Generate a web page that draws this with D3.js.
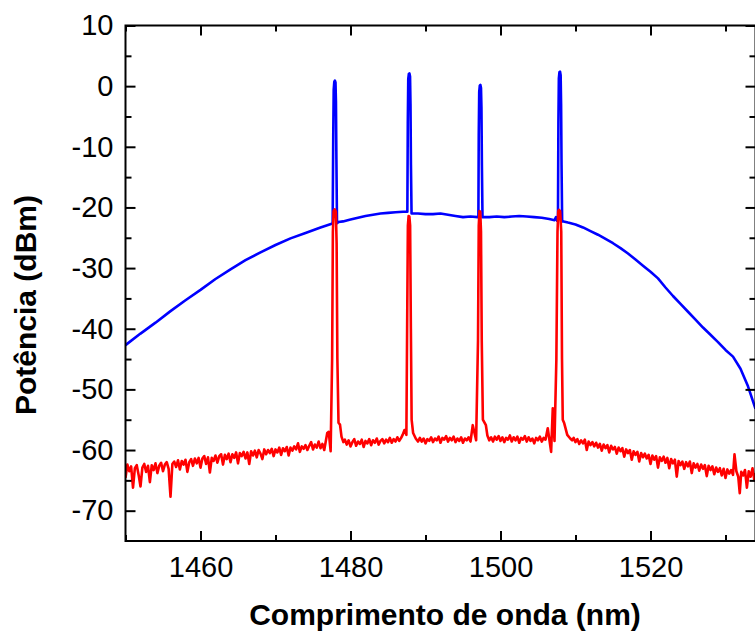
<!DOCTYPE html>
<html>
<head>
<meta charset="utf-8">
<script src="https://cdn.jsdelivr.net/npm/d3@7"></script>
<style>
  html, body { margin: 0; padding: 0; background: #fff; }
  svg { display: block; }
</style>
</head>
<body>
<svg id="chart" width="755" height="634"></svg>
<script>
// ---------------- DATA ----------------
const xMajorTicks = [1460, 1480, 1500, 1520];
const xMinorTicks = [1450, 1470, 1490, 1510, 1530];
const yMajorTicks = [10, 0, -10, -20, -30, -40, -50, -60, -70];
const yMinorTicks = [5, -5, -15, -25, -35, -45, -55, -65];

// Blue trace (ASE + 4 signal lines)
const blueWavelength = [
  1450, 1452, 1454, 1456, 1458, 1460, 1462, 1464, 1466, 1468, 1470, 1472, 1474, 1476, 1477.5,
  1477.62, 1477.7, 1477.76, 1477.84, 1477.92, 1478.0, 1478.06, 1478.12, 1478.2,
  1478.4, 1479, 1480, 1481, 1482, 1483, 1484, 1485, 1486, 1487, 1487.5,
  1487.58, 1487.64, 1487.7, 1487.78, 1487.86, 1487.94, 1488.0, 1488.06, 1488.14,
  1488.3, 1489, 1490, 1491, 1492, 1493, 1494, 1495, 1496, 1496.95,
  1497.05, 1497.1, 1497.16, 1497.24, 1497.32, 1497.4, 1497.46, 1497.52, 1497.6,
  1497.8, 1498.5, 1499.5, 1500.5, 1501.5, 1502.5, 1503.5, 1504.5, 1505.5, 1506.5, 1507.2, 1507.4, 1507.55,
  1507.66, 1507.72, 1507.78, 1507.86, 1507.94, 1508.02, 1508.08, 1508.14, 1508.22,
  1508.4, 1509, 1510, 1511, 1512, 1513, 1514, 1515, 1516, 1517, 1518, 1519, 1520,
  1521, 1522, 1523, 1524, 1525, 1526, 1527, 1528, 1529, 1530, 1531, 1532, 1533, 1534
];
const bluePower = [
  -42.7, -40.8, -39.0, -37.1, -35.3, -33.6, -31.8, -30.2, -28.7, -27.4, -26.2, -25.1, -24.2, -23.3, -22.7,
  -22.7, -8.0, -0.6, 0.7, 0.9, 0.6, -2.5, -12.0, -22.6,
  -22.4, -22.3, -22.0, -21.7, -21.4, -21.2, -21.0, -20.9, -20.8, -20.7, -20.7,
  -20.7, -6.0, 1.2, 2.0, 2.1, 1.6, -3.0, -13.0, -21.0,
  -21.0, -21.0, -21.1, -21.1, -21.0, -21.2, -21.4, -21.6, -21.5, -21.6,
  -21.6, -8.0, -1.0, 0.1, 0.2, -0.3, -3.5, -13.0, -21.6,
  -21.6, -21.6, -21.5, -21.6, -21.5, -21.4, -21.5, -21.6, -21.7, -21.9, -22.1, -21.6, -22.2,
  -22.2, -6.0, 1.3, 2.3, 2.4, 1.8, -3.0, -13.0, -22.3,
  -22.3, -22.5, -22.8, -23.3, -23.9, -24.5, -25.2, -25.9, -26.7, -27.6, -28.6, -29.6, -30.6,
  -31.7, -33.2, -34.6, -35.9, -37.2, -38.5, -39.8, -41.0, -42.2, -43.5, -44.6, -46.6, -49.5, -53.2
];

// Red trace (output): [wavelength nm, power dBm]
const redTrace = [
  [1450.00,-64.6],[1450.25,-62.4],[1450.50,-63.5],[1450.75,-62.7],[1451.00,-66.2],[1451.25,-63.0],[1451.50,-62.5],[1451.75,-64.1],
  [1452.00,-66.0],[1452.25,-62.9],[1452.50,-62.3],[1452.75,-63.6],[1453.00,-62.6],[1453.25,-65.3],[1453.50,-62.5],[1453.75,-63.3],
  [1454.00,-62.2],[1454.25,-63.8],[1454.50,-62.6],[1454.75,-62.1],[1455.00,-63.5],[1455.25,-62.4],[1455.50,-62.0],[1455.75,-63.1],
  [1456.00,-67.7],[1456.25,-62.3],[1456.50,-61.9],[1456.75,-62.8],[1457.00,-61.7],[1457.25,-63.2],[1457.50,-61.8],[1457.75,-62.4],
  [1458.00,-61.6],[1458.25,-63.6],[1458.50,-62.0],[1458.75,-61.5],[1459.00,-62.6],[1459.25,-61.4],[1459.50,-62.2],[1459.75,-61.3],
  [1460.00,-62.9],[1460.25,-61.4],[1460.50,-61.0],[1460.75,-62.3],[1461.00,-61.2],[1461.25,-63.7],[1461.50,-61.3],[1461.75,-61.8],
  [1462.00,-60.9],[1462.25,-62.1],[1462.50,-61.0],[1462.75,-60.7],[1463.00,-62.4],[1463.25,-60.8],[1463.50,-61.5],[1463.75,-60.6],
  [1464.00,-62.0],[1464.25,-60.7],[1464.50,-61.3],[1464.75,-60.4],[1465.00,-62.2],[1465.25,-60.5],[1465.50,-61.0],[1465.75,-60.3],
  [1466.00,-61.4],[1466.25,-60.4],[1466.50,-62.3],[1466.75,-60.2],[1467.00,-60.9],[1467.25,-60.1],[1467.50,-61.2],[1467.75,-60.0],
  [1468.00,-60.6],[1468.25,-61.5],[1468.50,-59.9],[1468.75,-60.7],[1469.00,-60.0],[1469.25,-60.5],[1469.50,-59.8],[1469.75,-61.0],
  [1470.00,-59.9],[1470.25,-60.4],[1470.50,-59.6],[1470.75,-60.8],[1471.00,-59.7],[1471.25,-60.2],[1471.50,-59.5],[1471.75,-60.9],
  [1472.00,-59.6],[1472.25,-60.1],[1472.50,-59.4],[1472.75,-59.9],[1473.00,-58.9],[1473.25,-60.3],[1473.50,-59.4],[1473.75,-59.8],
  [1474.00,-59.2],[1474.25,-60.0],[1474.50,-59.3],[1474.75,-58.7],[1475.00,-59.9],[1475.25,-59.1],[1475.50,-59.6],[1475.75,-58.6],
  [1476.00,-59.7],[1476.25,-59.0],[1476.50,-60.0],
  [1476.90,-57.2],[1477.10,-57.0],[1477.35,-60.2],[1477.55,-45.0],[1477.65,-24.0],[1477.75,-20.6],[1477.90,-20.3],[1478.05,-20.7],
  [1478.15,-26.0],[1478.25,-45.0],[1478.40,-55.5],[1478.60,-55.8],[1478.80,-57.8],[1479.05,-58.7],
  [1479.25,-58.3],[1479.50,-59.1],[1479.75,-58.4],[1480.00,-59.4],[1480.25,-58.7],[1480.50,-58.2],[1480.75,-59.3],[1481.00,-58.6],
  [1481.25,-59.0],[1481.50,-58.3],[1481.75,-59.5],[1482.00,-58.5],[1482.25,-58.9],[1482.50,-58.2],[1482.75,-59.2],[1483.00,-58.4],
  [1483.25,-58.8],[1483.50,-58.1],[1483.75,-59.1],[1484.00,-58.5],[1484.25,-58.2],[1484.50,-58.9],[1484.75,-58.3],[1485.00,-58.7],
  [1485.25,-58.0],[1485.50,-58.8],[1485.75,-58.2],[1486.00,-58.6],[1486.25,-57.9],[1486.50,-58.5],[1486.75,-58.0],
  [1486.95,-57.5],[1487.20,-56.7],[1487.45,-57.5],[1487.55,-40.0],[1487.65,-23.0],[1487.75,-21.4],[1487.85,-21.5],[1487.95,-23.0],
  [1488.05,-40.0],[1488.15,-55.0],[1488.35,-57.2],[1488.70,-58.1],[1489.00,-58.6],
  [1489.25,-58.0],[1489.50,-58.6],[1489.75,-58.1],[1490.00,-58.9],[1490.25,-58.2],[1490.50,-58.5],[1490.75,-57.9],[1491.00,-58.7],
  [1491.25,-58.1],[1491.50,-58.4],[1491.75,-57.8],[1492.00,-58.8],[1492.25,-58.0],[1492.50,-58.3],[1492.75,-57.7],[1493.00,-58.6],
  [1493.25,-58.0],[1493.50,-58.4],[1493.75,-57.8],[1494.00,-58.7],[1494.25,-58.1],[1494.50,-58.5],[1494.75,-57.9],[1495.00,-58.8],
  [1495.25,-58.1],[1495.50,-58.4],[1495.75,-57.9],[1496.00,-58.6],
  [1496.30,-55.9],[1496.75,-58.4],[1497.00,-42.0],[1497.10,-23.0],[1497.20,-20.6],[1497.30,-20.7],[1497.40,-24.0],[1497.50,-42.0],
  [1497.65,-55.0],[1498.05,-55.9],
  [1498.25,-57.6],[1498.50,-58.4],[1498.75,-57.9],[1499.00,-58.6],[1499.25,-57.8],[1499.50,-58.3],[1499.75,-57.7],[1500.00,-58.5],
  [1500.25,-57.9],[1500.50,-58.7],[1500.75,-58.0],[1501.00,-58.3],[1501.25,-57.6],[1501.50,-58.6],[1501.75,-57.9],[1502.00,-58.4],
  [1502.25,-57.8],[1502.50,-58.8],[1502.75,-58.0],[1503.00,-58.3],[1503.25,-57.7],[1503.50,-58.6],[1503.75,-57.9],[1504.00,-58.5],
  [1504.25,-58.1],[1504.50,-58.9],[1504.75,-58.0],[1505.00,-58.4],[1505.25,-57.8],[1505.50,-58.6],[1505.75,-58.0],[1506.00,-58.3],
  [1506.30,-56.4],[1506.75,-60.3],[1506.97,-53.1],[1507.20,-58.5],[1507.45,-45.0],[1507.60,-24.0],[1507.70,-20.6],[1507.80,-20.4],
  [1507.95,-20.6],[1508.10,-24.0],[1508.20,-45.0],[1508.30,-55.0],[1508.50,-55.6],[1508.90,-57.5],[1509.30,-58.1],[1509.55,-58.4],
  [1509.75,-58.0],[1510.00,-58.7],[1510.25,-58.2],[1510.50,-59.0],[1510.75,-58.4],[1511.00,-58.9],[1511.25,-58.3],[1511.50,-60.0],
  [1511.75,-58.6],[1512.00,-59.2],[1512.25,-58.7],[1512.50,-59.4],[1512.75,-58.8],[1513.00,-59.6],[1513.25,-59.0],[1513.50,-60.1],
  [1513.75,-59.1],[1514.00,-59.7],[1514.25,-59.2],[1514.50,-60.4],[1514.75,-59.3],[1515.00,-59.9],[1515.25,-59.5],[1515.50,-60.6],
  [1515.75,-59.6],[1516.00,-60.2],[1516.25,-59.7],[1516.50,-61.1],[1516.75,-59.9],[1517.00,-60.5],[1517.25,-60.0],[1517.50,-61.6],
  [1517.75,-60.2],[1518.00,-60.8],[1518.25,-60.3],[1518.50,-61.9],[1518.75,-60.5],[1519.00,-61.2],[1519.25,-60.6],[1519.50,-61.4],
  [1519.75,-60.8],[1520.00,-62.3],[1520.25,-60.9],[1520.50,-61.6],[1520.75,-61.0],[1521.00,-62.9],[1521.25,-61.2],[1521.50,-61.8],
  [1521.75,-61.1],[1522.00,-62.1],[1522.25,-61.3],[1522.50,-63.0],[1522.75,-61.5],[1523.00,-62.2],[1523.25,-61.6],[1523.50,-64.4],
  [1523.75,-61.8],[1524.00,-62.5],[1524.25,-61.9],[1524.50,-63.1],[1524.75,-62.0],[1525.00,-62.7],[1525.25,-61.9],[1525.50,-63.8],
  [1525.75,-62.2],[1526.00,-62.9],[1526.25,-62.3],[1526.50,-63.4],[1526.75,-62.4],[1527.00,-63.1],[1527.25,-62.5],[1527.50,-64.3],
  [1527.75,-62.6],[1528.00,-63.3],[1528.25,-62.7],[1528.50,-64.0],[1528.75,-62.9],[1529.00,-63.6],[1529.25,-63.0],[1529.50,-64.2],
  [1529.75,-63.1],[1530.00,-64.6],[1530.25,-63.2],[1530.50,-63.9],[1530.75,-63.3],[1531.00,-64.1],[1531.20,-60.7],[1531.45,-63.5],
  [1531.70,-64.4],[1531.90,-67.1],[1532.10,-63.6],[1532.35,-64.2],[1532.60,-63.3],[1532.85,-66.2],[1533.10,-63.5],[1533.35,-64.4],
  [1533.60,-63.0],[1533.85,-65.0],[1534.00,-63.8]
];

// ---------------- CHART ----------------
const svg = d3.select("#chart");
const FONT = "'Liberation Sans', Arial, sans-serif";
const margin = { left: 125.5, top: 25.5, bottom: 541 };

const x = d3.scaleLinear().domain([1450, 1534]).range([margin.left, margin.left + 84 * 7.5]);
const y = d3.scaleLinear().domain([-75, 10]).range([margin.bottom, margin.top]);
const xRight = x(1534);

svg.append("defs").append("clipPath").attr("id", "plotclip")
  .append("rect")
  .attr("x", margin.left).attr("y", margin.top)
  .attr("width", xRight - margin.left).attr("height", margin.bottom - margin.top);

const lineGen = d3.line().x(d => x(d[0])).y(d => y(d[1]));
const blueData = blueWavelength.map((w, i) => [w, bluePower[i]]);

const plot = svg.append("g").attr("clip-path", "url(#plotclip)");
plot.append("path").datum(blueData)
  .attr("d", lineGen).attr("fill", "none").attr("stroke", "#0000ff")
  .attr("stroke-width", 2.6).attr("stroke-linejoin", "round");
plot.append("path").datum(redTrace)
  .attr("d", lineGen).attr("fill", "none").attr("stroke", "#ff0000")
  .attr("stroke-width", 2.6).attr("stroke-linejoin", "round");

// axes
const fmt = d => String(d);
function styleAxis(g) {
  g.select(".domain").remove();
  g.selectAll(".tick line").attr("stroke", "#000").attr("stroke-width", 2);
}
function styleText(g) {
  g.selectAll("text").attr("font-family", FONT).attr("font-size", 29).attr("fill", "#000");
}

svg.append("g").attr("transform", `translate(0,${margin.bottom})`)
  .call(d3.axisBottom(x).tickValues(xMajorTicks).tickSize(-10).tickPadding(15).tickFormat(fmt))
  .call(styleAxis).call(styleText);
svg.append("g").attr("transform", `translate(0,${margin.bottom})`)
  .call(d3.axisBottom(x).tickValues(xMinorTicks).tickSize(-6).tickFormat(""))
  .call(styleAxis);
svg.append("g").attr("transform", `translate(0,${margin.top})`)
  .call(d3.axisTop(x).tickValues(xMajorTicks).tickSize(-10).tickFormat(""))
  .call(styleAxis);
svg.append("g").attr("transform", `translate(0,${margin.top})`)
  .call(d3.axisTop(x).tickValues(xMinorTicks).tickSize(-6).tickFormat(""))
  .call(styleAxis);

svg.append("g").attr("transform", `translate(${margin.left},0)`)
  .call(d3.axisLeft(y).tickValues(yMajorTicks).tickSize(-10).tickPadding(12).tickFormat(fmt))
  .call(styleAxis).call(styleText);
svg.append("g").attr("transform", `translate(${margin.left},0)`)
  .call(d3.axisLeft(y).tickValues(yMinorTicks).tickSize(-6).tickFormat(""))
  .call(styleAxis);
svg.append("g").attr("transform", `translate(${xRight},0)`)
  .call(d3.axisRight(y).tickValues(yMajorTicks).tickSize(-10).tickFormat(""))
  .call(styleAxis);
svg.append("g").attr("transform", `translate(${xRight},0)`)
  .call(d3.axisRight(y).tickValues(yMinorTicks).tickSize(-6).tickFormat(""))
  .call(styleAxis);

// frame
svg.append("rect")
  .attr("x", margin.left).attr("y", margin.top)
  .attr("width", xRight - margin.left).attr("height", margin.bottom - margin.top)
  .attr("fill", "none").attr("stroke", "#000").attr("stroke-width", 2);

// axis titles
svg.append("text")
  .attr("x", 445).attr("y", 625)
  .attr("text-anchor", "middle")
  .attr("font-family", FONT)
  .attr("font-weight", "bold").attr("font-size", 30)
  .text("Comprimento de onda (nm)");
svg.append("text")
  .attr("transform", "translate(36,305) rotate(-90)")
  .attr("text-anchor", "middle")
  .attr("font-family", FONT)
  .attr("font-weight", "bold").attr("font-size", 30)
  .text("Potência (dBm)");
</script>
</body>
</html>
